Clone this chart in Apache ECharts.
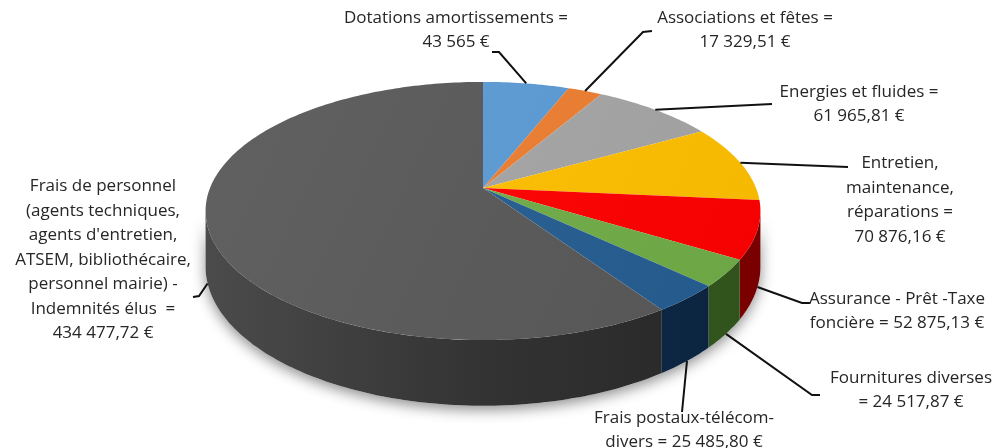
<!DOCTYPE html>
<html>
<head>
<meta charset="utf-8">
<script src="https://cdn.jsdelivr.net/npm/echarts@6/dist/echarts.min.js"></script>
<style>
  html, body { margin: 0; padding: 0; background: #fff; }
  #chart { width: 994px; height: 448px; }
</style>
</head>
<body>
<div id="chart"></div>
<script>
// budget items (clockwise from 12 o'clock)
var names = [
  'Dotations amortissements =\n43 565 €',
  'Associations et fêtes =\n17 329,51 €',
  'Energies et fluides =\n61 965,81 €',
  'Entretien,\nmaintenance,\nréparations =\n70 876,16 €',
  'Assurance - Prêt -Taxe\nfoncière = 52 875,13 €',
  'Fournitures diverses\n= 24 517,87 €',
  'Frais postaux-télécom-\ndivers = 25 485,80 €',
  'Frais de personnel\n(agents techniques,\nagents d\'entretien,\nATSEM, bibliothécaire,\npersonnel mairie) -\nIndemnités élus  =\n434 477,72 €'
];
var values = [43565, 17329.51, 61965.81, 70876.16, 52875.13, 24517.87, 25485.80, 434477.72];

// styling / layout (not data)
var topColors  = ['#5B9BD5', '#ED7D31', '#A5A5A5', '#FFC000', '#FF0000', '#70AD47', '#255E91', '#595959'];
var sideColors = ['#3d6f9e', '#b0591f', '#7a7a7a', '#c08f00', '#a00000', '#3f6a24', '#0f2d50', '#333333'];
var labelCenter = [[456, 30], [745, 30], [859, 104], [900, 200], [897, 311], [911, 390], [684, 430], [103, 260]];
var leaderEnd = [
  [[492, 52], [499, 52]],
  [[652, 31], [643, 32]],
  [[772, 104]],
  [[848, 167]],
  [[810, 303], [802, 303]],
  [[820, 395], [812, 395]],
  [[682, 412]],
  [[193, 297], [199, 296]]
];

// pseudo 3D projection of the pie disc
var CX = 483, CY = 188, RX = 273, RY = 125, PERSP = 0.178, DEPTH = 54;

function proj(phi, drop) {
  var u = Math.sin(phi), v = -Math.cos(phi), w = 1 - PERSP * v;
  return [CX + RX * u / w, CY + (RY * v + drop) / w];
}
function arc(a0, a1, drop) {
  var pts = [], n = Math.max(2, Math.ceil((a1 - a0) / (Math.PI / 180)));
  for (var i = 0; i <= n; i++) pts.push(proj(a0 + (a1 - a0) * i / n, drop));
  return pts;
}
function mix(hex, target, t) {
  var a = parseInt(hex.slice(1), 16), b = parseInt(target.slice(1), 16);
  var r = Math.round(((a >> 16) & 255) * (1 - t) + ((b >> 16) & 255) * t);
  var g = Math.round(((a >> 8) & 255) * (1 - t) + ((b >> 8) & 255) * t);
  var bl = Math.round((a & 255) * (1 - t) + (b & 255) * t);
  return 'rgb(' + r + ',' + g + ',' + bl + ')';
}

var total = values.reduce(function (s, x) { return s + x; }, 0);
var starts = [], acc = 0;
values.forEach(function (x) { starts.push(acc / total * Math.PI * 2); acc += x; });

var SIDE0 = Math.acos(-PERSP), SIDE1 = Math.PI * 2 - SIDE0;

function renderItem(params, api) {
  var i = params.dataIndex;
  var a0 = starts[i], a1 = a0 + api.value(0) / total * Math.PI * 2;
  var mid = (a0 + a1) / 2;
  var children = [];

  if (i === 0) {
    // soft shadow under the whole disc
    var sh = arc(SIDE0, SIDE1, DEPTH).concat(arc(SIDE0, SIDE1, 0).reverse());
    children.push({
      type: 'polygon', z2: -1, shape: { points: sh },
      style: { fill: '#fff', shadowBlur: 14, shadowColor: 'rgba(0,0,0,0.45)', shadowOffsetY: 4 }
    });
  }

  var b0 = Math.max(a0, SIDE0), b1 = Math.min(a1, SIDE1);
  if (b1 > b0) {
    var side = arc(b0, b1, 0).concat(arc(b0, b1, DEPTH).reverse());
    children.push({
      type: 'polygon', z2: 1, shape: { points: side },
      style: {
        fill: new echarts.graphic.LinearGradient(205, 0, 760, 0, [
          { offset: 0, color: mix(sideColors[i], '#ffffff', 0.12) },
          { offset: 0.5, color: sideColors[i] },
          { offset: 1, color: mix(sideColors[i], '#000000', 0.25) }
        ], true),
        stroke: null
      }
    });
  }

  var top = [[CX, CY]].concat(arc(a0, a1, 0));
  children.push({
    type: 'polygon', z2: 5, shape: { points: top },
    style: {
      fill: new echarts.graphic.LinearGradient(205, 80, 760, 340, [
        { offset: 0, color: mix(topColors[i], '#ffffff', 0.05) },
        { offset: 1, color: mix(topColors[i], '#000000', 0.04) }
      ], true)
    }
  });

  // leader line: back slices attach on top rim, front slices on the bottom edge
  var front = -Math.cos(mid) > 0.1;
  var anchor = proj(mid, front ? DEPTH : 0);
  children.push({
    type: 'polyline', z2: 8,
    shape: { points: leaderEnd[i].concat([anchor]) },
    style: { stroke: '#111', lineWidth: 2, fill: null }
  });

  children.push({
    type: 'text', z2: 10,
    style: {
      text: names[i], x: labelCenter[i][0], y: labelCenter[i][1],
      align: 'center', verticalAlign: 'middle',
      font: '17px "Open Sans", sans-serif', lineHeight: 24.5, fill: '#262626'
    }
  });

  return { type: 'group', children: children };
}

var chart = echarts.init(document.getElementById('chart'));
chart.setOption({
  backgroundColor: '#fff',
  animation: false,
  series: [{
    type: 'custom',
    coordinateSystem: 'none',
    renderItem: renderItem,
    data: values.map(function (v) { return [v]; })
  }]
});
</script>
</body>
</html>
